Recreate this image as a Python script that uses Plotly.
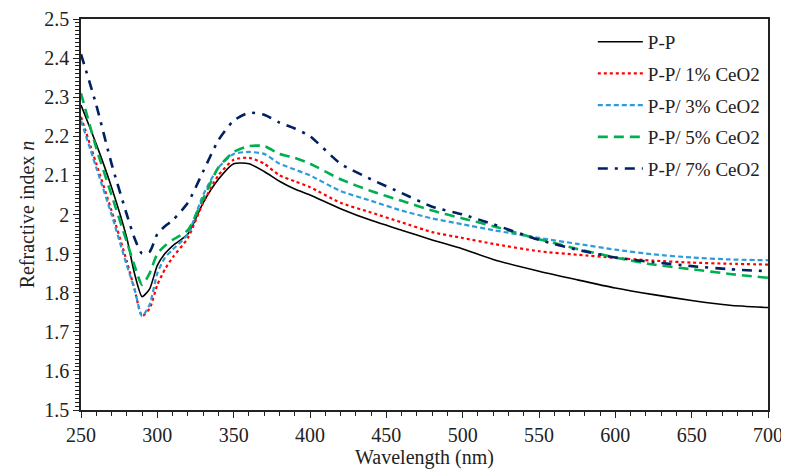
import plotly.graph_objects as go

wl = [250, 260, 270, 280, 285, 290, 295, 300, 305, 310, 320, 330, 340, 350, 360, 370, 380, 390, 400,
      420, 440, 460, 480, 500, 520, 550, 575, 600, 625, 650, 675, 700]

pp = [2.28, 2.18, 2.07, 1.94, 1.85, 1.79, 1.81, 1.87, 1.90, 1.92, 1.95, 2.03, 2.09, 2.13, 2.13, 2.11, 2.085, 2.065, 2.05,
      2.015, 1.985, 1.96, 1.935, 1.912, 1.885, 1.855, 1.833, 1.812, 1.795, 1.78, 1.768, 1.762]
pp1 = [2.25, 2.13, 2.01, 1.88, 1.81, 1.74, 1.76, 1.82, 1.86, 1.89, 1.94, 2.03, 2.10, 2.14, 2.145, 2.13, 2.10, 2.085, 2.07,
       2.03, 2.005, 1.98, 1.955, 1.94, 1.925, 1.906, 1.897, 1.889, 1.882, 1.877, 1.874, 1.872]
pp3 = [2.24, 2.12, 2.00, 1.87, 1.81, 1.74, 1.77, 1.85, 1.89, 1.91, 1.95, 2.05, 2.12, 2.155, 2.16, 2.155, 2.13, 2.115, 2.10,
       2.06, 2.035, 2.01, 1.99, 1.975, 1.96, 1.94, 1.925, 1.91, 1.898, 1.89, 1.885, 1.883]
pp5 = [2.31, 2.17, 2.05, 1.93, 1.87, 1.82, 1.85, 1.90, 1.92, 1.935, 1.96, 2.04, 2.12, 2.16, 2.175, 2.175, 2.155, 2.145, 2.13,
       2.09, 2.06, 2.035, 2.01, 1.99, 1.97, 1.937, 1.912, 1.89, 1.872, 1.86, 1.848, 1.838]
pp7 = [2.41, 2.28, 2.13, 2.00, 1.94, 1.90, 1.905, 1.95, 1.97, 1.985, 2.03, 2.11, 2.19, 2.24, 2.26, 2.255, 2.235, 2.22, 2.20,
       2.13, 2.09, 2.055, 2.02, 2.00, 1.975, 1.935, 1.91, 1.89, 1.878, 1.868, 1.86, 1.855]

names = ["P-P", "P-P/ 1% CeO2", "P-P/ 3% CeO2", "P-P/ 5% CeO2", "P-P/ 7% CeO2"]
series = [pp, pp1, pp3, pp5, pp7]
colors = ["#000000", "#FF0000", "#2E9BDA", "#00B050", "#002060"]
dashes = ["solid", "dot", "5px,3px", "10px,6px", "10px,7px,3px,7px"]
widths = [1.6, 2.2, 2.2, 2.6, 2.6]

fig = go.Figure()
for i, (n, y) in enumerate(zip(names, series)):
    fig.add_trace(go.Scatter(
        x=wl, y=y, mode="lines", name=n, legendgroup=n,
        line=dict(color=colors[i], dash=dashes[i], width=widths[i], shape="spline", smoothing=0.6),
    ))

font_family = "Liberation Serif, Times New Roman, serif"
fig.update_layout(
    width=781, height=461,
    margin=dict(l=73, r=21, t=11, b=59),
    paper_bgcolor="white", plot_bgcolor="white",
    font=dict(family=font_family, size=20, color="#222"),
    showlegend=True,
    legend=dict(x=0.745, y=0.99, xanchor="left", yanchor="top",
                bgcolor="rgba(0,0,0,0)", font=dict(size=19, family=font_family, color="#222"),
                tracegroupgap=4, itemwidth=45),
    xaxis=dict(range=[250, 700], dtick=50, tick0=250, automargin=False,
               showline=True, linecolor="#222", linewidth=1.5, mirror=True,
               ticks="outside", ticklen=6, tickcolor="#222",
               minor=dict(dtick=10, ticks="outside", ticklen=4, tickcolor="#222"),
               showgrid=False, zeroline=False, tickfont=dict(size=20),
               title=dict(text="Wavelength (nm)", standoff=0, font=dict(size=20))),
    yaxis=dict(range=[1.5, 2.5], dtick=0.1, tick0=1.5, automargin=False,
               showline=True, linecolor="#222", linewidth=1.5, mirror=True,
               ticks="outside", ticklen=6, tickcolor="#222",
               minor=dict(dtick=0.01, ticks="outside", ticklen=4, tickcolor="#222"),
               showgrid=False, zeroline=False, tickformat="~r", tickfont=dict(size=20),
               title=dict(text="Refractive index <i>n</i>", standoff=4, font=dict(size=20))),
)

fig.write_html("out.html")
